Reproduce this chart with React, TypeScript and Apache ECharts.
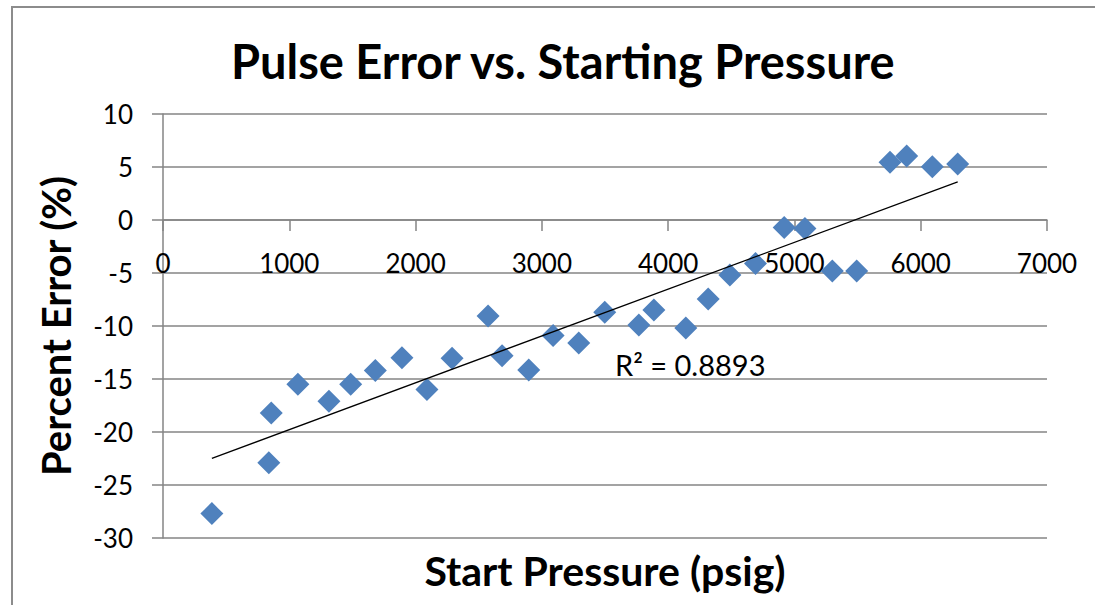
import React, { useEffect, useRef } from "react";
import * as echarts from "echarts";

// Start pressure (psig) and percent error (%)
const pressure = [
  387, 838, 857, 1068, 1314, 1486, 1681, 1892, 2090, 2289, 2574, 2685, 2896, 3089, 3292,
  3498, 3768, 3887, 4140, 4317, 4489, 4692, 4919, 5083, 5300, 5493, 5757, 5889, 6092, 6293,
];
const percentError = [
  -27.7, -22.9, -18.2, -15.5, -17.1, -15.5, -14.2, -13.0, -16.0, -13.05, -9.06, -12.8, -14.15,
  -10.9, -11.6, -8.7, -9.9, -8.5, -10.2, -7.45, -5.2, -4.1, -0.7, -0.8, -4.8, -4.8, 5.44, 6.04,
  5.03, 5.28,
];
const xRange = [0, 7000];
const xStep = 1000;
const yRange = [-30, 10];
const yStep = 5;
const titleText = "Pulse Error vs. Starting Pressure";
const xName = "Start Pressure (psig)";
const yName = "Percent Error (%)";
const rSquaredLabel = "R\u00B2 = 0.8893";

function linearFit(xs: number[], ys: number[]) {
  const n = xs.length;
  const mx = xs.reduce((a, b) => a + b, 0) / n;
  const my = ys.reduce((a, b) => a + b, 0) / n;
  let sxy = 0;
  let sxx = 0;
  for (let i = 0; i < n; i++) {
    sxy += (xs[i] - mx) * (ys[i] - my);
    sxx += (xs[i] - mx) * (xs[i] - mx);
  }
  const slope = sxy / sxx;
  const intercept = my - slope * mx;
  return (x: number) => intercept + slope * x;
}

const FONT = "Lato";
const GRID_COLOR = "#858585";
const GRID_H = 424;

export default function App() {
  const ref = useRef<HTMLDivElement>(null);
  useEffect(() => {
    if (!ref.current) return;
    const chart = echarts.init(ref.current, null, { renderer: "svg" });
    const fit = linearFit(pressure, percentError);
    const xMin = Math.min(...pressure);
    const xMax = Math.max(...pressure);
    const points = pressure.map((p, i) => [p, percentError[i]]);
    // place the x axis on the y = 0 line (distance up from the plot's bottom edge)
    const zeroOffset = -GRID_H * ((0 - yRange[0]) / (yRange[1] - yRange[0]));

    chart.setOption({
      animation: false,
      backgroundColor: "#ffffff",
      title: {
        text: titleText,
        left: 226,
        top: 32,
        textStyle: { fontFamily: FONT, fontWeight: "bold", fontSize: 47, color: "#000" },
      },
      grid: {
        left: 163,
        top: 114,
        width: 884,
        height: GRID_H,
        containLabel: false,
        outerBoundsMode: "none",
      },
      xAxis: {
        type: "value",
        min: xRange[0],
        max: xRange[1],
        interval: xStep,
        offset: zeroOffset,
        name: xName,
        nameLocation: "middle",
        nameGap: 330,
        nameTextStyle: { fontFamily: FONT, fontWeight: "bold", fontSize: 41, color: "#000" },
        axisLine: { show: true, onZero: false, lineStyle: { color: GRID_COLOR, width: 1.5 } },
        axisTick: { show: true, length: 11, lineStyle: { color: GRID_COLOR, width: 1.5 } },
        axisLabel: {
          margin: 30,
          fontFamily: FONT,
          fontSize: 26,
          color: "#000",
          formatter: (v: number) => String(v),
        },
        splitLine: { show: false },
      },
      yAxis: {
        type: "value",
        min: yRange[0],
        max: yRange[1],
        interval: yStep,
        name: yName,
        nameLocation: "middle",
        nameRotate: 90,
        nameGap: 87,
        nameTextStyle: { fontFamily: FONT, fontWeight: "bold", fontSize: 40, color: "#000" },
        axisLine: { show: true, onZero: false, lineStyle: { color: GRID_COLOR, width: 1.5 } },
        axisTick: { show: true, length: 11, lineStyle: { color: GRID_COLOR, width: 1.5 } },
        axisLabel: {
          margin: 30,
          fontFamily: FONT,
          fontSize: 26,
          color: "#000",
          formatter: (v: number) => String(v),
        },
        splitLine: { show: true, lineStyle: { color: GRID_COLOR, width: 1.5 } },
      },
      graphic: [
        {
          type: "rect",
          silent: true,
          z: -10,
          shape: { x: 12, y: 7, width: 1300, height: 800 },
          style: { fill: "none", stroke: "#8c8c8c", lineWidth: 2 },
        },
        {
          type: "text",
          x: 615,
          y: 350,
          style: {
            text: rSquaredLabel,
            fontFamily: FONT,
            fontSize: 29,
            fill: "#000",
            verticalAlign: "top",
          },
        },
      ],
      series: [
        {
          type: "scatter",
          symbol: "diamond",
          symbolSize: 23,
          itemStyle: { color: "#4F81BD", opacity: 1 },
          data: points,
          z: 2,
        },
        {
          type: "line",
          showSymbol: false,
          symbol: "none",
          lineStyle: { color: "#000", width: 1.3 },
          data: [
            [xMin, fit(xMin)],
            [xMax, fit(xMax)],
          ],
          z: 3,
        },
      ],
    });
    return () => chart.dispose();
  }, []);
  return (
    <div
      ref={ref}
      style={{ position: "fixed", left: 0, top: 0, width: 1095, height: 605, background: "#fff" }}
    />
  );
}
